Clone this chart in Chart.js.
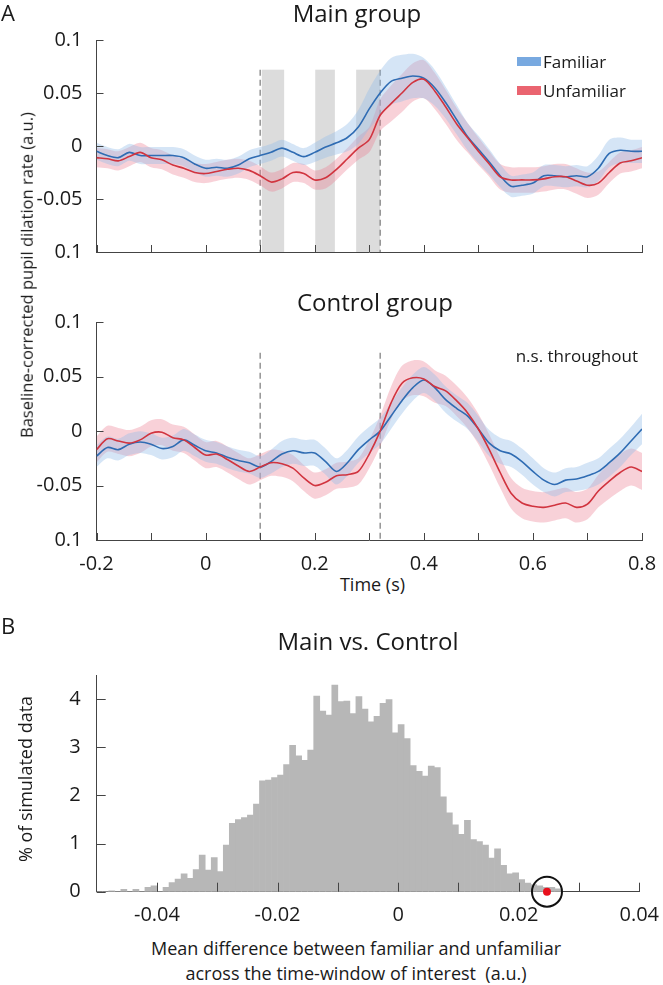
<!DOCTYPE html>
<html>
<head>
<meta charset="utf-8">
<script src="https://cdn.jsdelivr.net/npm/chart.js@4.4.1/dist/chart.umd.min.js"></script>
<style>
  body { margin: 0; background: #fff; }
  #fig { position: relative; width: 663px; height: 985px; font-family: 'Open Sans', sans-serif; color: #1a1a1a; }
  #fig canvas { position: absolute; left: 0; }
  .t { position: absolute; line-height: 1; white-space: nowrap; }
  .c { transform: translateX(-50%); }
  .rot { transform: translate(-50%, -50%) rotate(-90deg); }
  .sw { position: absolute; width: 24px; height: 9px; }
</style>
</head>
<body>
<div id="fig">
  <canvas id="mainChart" width="663" height="270" style="top:0px"></canvas>
  <canvas id="controlChart" width="663" height="280" style="top:290px"></canvas>
  <canvas id="histChart" width="663" height="330" style="top:600px"></canvas>

  <div class="t" style="left:1px; top:0.5px; font-size:22px">A</div>
  <div class="t c" style="left:357px; top:1.4px; font-size:24px">Main group</div>
  <div class="sw" style="left:517px; top:57px; background:#78a9e0"></div>
  <div class="t" style="left:543px; top:53.2px; font-size:17px">Familiar</div>
  <div class="sw" style="left:517px; top:86px; background:#ea6470"></div>
  <div class="t" style="left:543px; top:81.6px; font-size:17px">Unfamiliar</div>
  <div class="t c" style="left:375px; top:290.4px; font-size:24px">Control group</div>
  <div class="t" style="right:25px; top:346.6px; font-size:17px">n.s. throughout</div>
  <div class="t c" style="left:372.5px; top:575px; font-size:18px">Time (s)</div>
  <div class="t rot" style="left:27px; top:275px; font-size:16.5px">Baseline-corrected pupil dilation rate (a.u.)</div>

  <div class="t" style="left:1px; top:613.5px; font-size:22px">B</div>
  <div class="t c" style="left:368px; top:628.7px; font-size:24px">Main vs. Control</div>
  <div class="t rot" style="left:25px; top:779px; font-size:18px">% of simulated data</div>
  <div class="t c" style="left:356px; top:939px; font-size:18px">Mean difference between familiar and unfamiliar</div>
  <div class="t c" style="left:356px; top:964px; font-size:18px">across the time-window of interest&nbsp; (a.u.)</div>
</div>

<script>
Chart.defaults.font.family = "'Open Sans', sans-serif";
Chart.defaults.color = '#1a1a1a';

// time points (s)
const times = [-0.2, -0.18, -0.16, -0.14, -0.12, -0.1, -0.08, -0.06, -0.04, -0.02,
  0, 0.02, 0.04, 0.06, 0.08, 0.1, 0.12, 0.14, 0.16, 0.18,
  0.2, 0.22, 0.24, 0.26, 0.28, 0.3, 0.32, 0.34, 0.36, 0.38,
  0.4, 0.42, 0.44, 0.46, 0.48, 0.5, 0.52, 0.54, 0.56, 0.58,
  0.6, 0.62, 0.64, 0.66, 0.68, 0.7, 0.72, 0.74, 0.76, 0.78, 0.8];

// main group
const mainFamiliar = [-0.005, -0.009, -0.011, -0.006, -0.009, -0.009, -0.009, -0.009, -0.011, -0.017,
  -0.021, -0.020, -0.021, -0.018, -0.012, -0.009, -0.006, -0.002, -0.006, -0.010,
  -0.006, -0.001, 0.003, 0.008, 0.018, 0.035, 0.050, 0.061, 0.064, 0.066,
  0.064, 0.055, 0.041, 0.025, 0.009, -0.003, -0.015, -0.028, -0.038, -0.037,
  -0.035, -0.028, -0.028, -0.029, -0.028, -0.029, -0.021, -0.007, -0.004, -0.005, -0.005];
const mainFamiliarSE = [0.008, 0.008, 0.008, 0.008, 0.008, 0.008, 0.008, 0.008, 0.008, 0.008,
  0.008, 0.008, 0.008, 0.008, 0.008, 0.008, 0.008, 0.008, 0.008, 0.008,
  0.009, 0.01, 0.011, 0.013, 0.016, 0.019, 0.021, 0.022, 0.022, 0.021,
  0.019, 0.017, 0.015, 0.014, 0.013, 0.013, 0.012, 0.011, 0.01, 0.01,
  0.01, 0.01, 0.01, 0.01, 0.01, 0.01, 0.012, 0.013, 0.012, 0.011, 0.011];
const mainUnfamiliar = [-0.011, -0.012, -0.014, -0.010, -0.006, -0.011, -0.013, -0.018, -0.021, -0.025,
  -0.026, -0.024, -0.022, -0.021, -0.023, -0.028, -0.034, -0.031, -0.025, -0.026,
  -0.032, -0.030, -0.022, -0.012, -0.002, 0.006, 0.029, 0.040, 0.050, 0.060,
  0.063, 0.052, 0.037, 0.021, 0.008, -0.005, -0.017, -0.029, -0.032, -0.032,
  -0.032, -0.031, -0.029, -0.029, -0.033, -0.037, -0.035, -0.025, -0.016, -0.014, -0.011];
const mainUnfamiliarSE = [0.009, 0.009, 0.009, 0.009, 0.009, 0.009, 0.009, 0.009, 0.009, 0.009,
  0.009, 0.009, 0.009, 0.009, 0.009, 0.009, 0.009, 0.009, 0.009, 0.009,
  0.009, 0.01, 0.01, 0.01, 0.011, 0.012, 0.015, 0.017, 0.018, 0.018,
  0.018, 0.017, 0.016, 0.015, 0.014, 0.013, 0.012, 0.012, 0.012, 0.012,
  0.012, 0.012, 0.012, 0.012, 0.012, 0.012, 0.011, 0.01, 0.01, 0.01, 0.01];

// control group
const ctrlFamiliar = [-0.023, -0.015, -0.017, -0.012, -0.010, -0.012, -0.016, -0.014, -0.008, -0.013,
  -0.018, -0.020, -0.024, -0.027, -0.029, -0.033, -0.028, -0.021, -0.018, -0.020,
  -0.020, -0.028, -0.037, -0.029, -0.017, -0.008, 0.000, 0.014, 0.028, 0.040,
  0.047, 0.040, 0.029, 0.021, 0.014, 0.002, -0.011, -0.018, -0.021, -0.028,
  -0.037, -0.045, -0.049, -0.045, -0.044, -0.041, -0.037, -0.029, -0.020, -0.009, 0.002];
const ctrlFamiliarSE = [0.01, 0.01, 0.01, 0.01, 0.01, 0.01, 0.01, 0.01, 0.01, 0.01,
  0.01, 0.01, 0.01, 0.01, 0.01, 0.01, 0.011, 0.012, 0.012, 0.012,
  0.012, 0.012, 0.012, 0.012, 0.012, 0.012, 0.012, 0.012, 0.012, 0.012,
  0.012, 0.012, 0.012, 0.012, 0.012, 0.012, 0.012, 0.012, 0.012, 0.012,
  0.012, 0.011, 0.011, 0.011, 0.011, 0.012, 0.012, 0.013, 0.013, 0.013, 0.014];
const ctrlUnfamiliar = [-0.017, -0.007, -0.009, -0.011, -0.008, -0.002, -0.001, -0.006, -0.008, -0.015,
  -0.022, -0.021, -0.026, -0.032, -0.037, -0.033, -0.029, -0.030, -0.034, -0.043,
  -0.050, -0.047, -0.041, -0.040, -0.037, -0.021, 0.000, 0.026, 0.044, 0.049,
  0.048, 0.041, 0.037, 0.028, 0.017, 0.002, -0.017, -0.038, -0.057, -0.066,
  -0.069, -0.070, -0.068, -0.066, -0.070, -0.067, -0.055, -0.046, -0.038, -0.033, -0.037];
const ctrlUnfamiliarSE = [0.012, 0.012, 0.012, 0.012, 0.012, 0.012, 0.012, 0.012, 0.012, 0.012,
  0.012, 0.012, 0.012, 0.012, 0.012, 0.012, 0.012, 0.012, 0.012, 0.012,
  0.012, 0.012, 0.012, 0.012, 0.012, 0.013, 0.014, 0.015, 0.016, 0.016,
  0.016, 0.015, 0.014, 0.014, 0.014, 0.014, 0.014, 0.014, 0.014, 0.014,
  0.014, 0.014, 0.014, 0.014, 0.014, 0.014, 0.015, 0.016, 0.017, 0.017, 0.017];

// significant windows (s) in main group, and event markers (s)
const sigWindows = [[0.103, 0.144], [0.201, 0.237], [0.276, 0.32]];
const markerTimes = [0.1, 0.32];
const markerTop = 0.072;

// value-axis tick labels, as printed (bottom one lacks the minus sign)
const yTickText = { '0.1': '0.1', '0.05': '0.05', '0': '0', '-0.05': '-0.05', '-0.1': '0.1' };

// histogram: bin centres and % of simulated data
const histBins = [-0.0495, -0.0485, -0.0475, -0.0465, -0.0455, -0.0445, -0.0435, -0.0425, -0.0415, -0.0405,
  -0.0395, -0.0385, -0.0375, -0.0365, -0.0355, -0.0345, -0.0335, -0.0325, -0.0315, -0.0305,
  -0.0295, -0.0285, -0.0275, -0.0265, -0.0255, -0.0245, -0.0235, -0.0225, -0.0215, -0.0205,
  -0.0195, -0.0185, -0.0175, -0.0165, -0.0155, -0.0145, -0.0135, -0.0125, -0.0115, -0.0105,
  -0.0095, -0.0085, -0.0075, -0.0065, -0.0055, -0.0045, -0.0035, -0.0025, -0.0015, -0.0005,
  0.0005, 0.0015, 0.0025, 0.0035, 0.0045, 0.0055, 0.0065, 0.0075, 0.0085, 0.0095,
  0.0105, 0.0115, 0.0125, 0.0135, 0.0145, 0.0155, 0.0165, 0.0175, 0.0185, 0.0195,
  0.0205, 0.0215, 0.0225, 0.0235, 0.0245, 0.0255, 0.0265];
const histPercent = [0, 0, 0.02, 0, 0.05, 0, 0.05, 0, 0.09, 0.12,
  0, 0.09, 0.19, 0.26, 0.37, 0.28, 0.46, 0.76, 0.45, 0.71,
  0.42, 0.97, 1.42, 1.50, 1.54, 1.59, 1.82, 2.30, 2.32, 2.37,
  2.42, 2.64, 3.04, 2.82, 2.73, 2.94, 4.06, 3.75, 3.67, 4.29,
  3.95, 3.96, 3.70, 4.05, 3.79, 3.53, 3.64, 3.91, 3.99, 3.30,
  3.47, 3.18, 2.62, 2.50, 2.40, 2.61, 2.58, 1.97, 1.64, 1.39,
  1.19, 1.48, 1.08, 1.04, 0.97, 0.70, 0.89, 0.55, 0.37, 0.39,
  0.25, 0.18, 0.15, 0.12, 0.09, 0.09, 0.06];
const observedDiff = 0.0247;

const blueLine = '#2f6cb3', blueBand = 'rgba(150,190,232,0.4)';
const redLine = '#d1343f', redBand = 'rgba(236,128,146,0.36)';

// inward ticks along the left and bottom axes
const inTicks = {
  id: 'inTicks',
  afterDraw(chart, args, opts) {
    const { ctx, chartArea: a, scales } = chart;
    const len = opts.len || 7;
    ctx.save();
    ctx.strokeStyle = '#444';
    ctx.lineWidth = 1;
    ctx.beginPath();
    scales.x.ticks.forEach(t => {
      const px = Math.round(scales.x.getPixelForValue(t.value)) + 0.5;
      ctx.moveTo(px, a.bottom); ctx.lineTo(px, a.bottom - len);
    });
    scales.y.ticks.forEach(t => {
      const py = Math.round(scales.y.getPixelForValue(t.value)) + 0.5;
      ctx.moveTo(a.left, py); ctx.lineTo(a.left + len, py);
    });
    ctx.stroke();
    ctx.restore();
  }
};

// grey significance windows and dashed event markers
const marks = {
  id: 'marks',
  beforeDatasetsDraw(chart, args, opts) {
    const { ctx, scales: { x, y } } = chart;
    const top = y.getPixelForValue(opts.top);
    const bottom = y.getPixelForValue(y.min);
    ctx.save();
    ctx.fillStyle = '#dcdcdc';
    (opts.windows || []).forEach(([a, b]) => {
      const xa = x.getPixelForValue(a), xb = x.getPixelForValue(b);
      ctx.fillRect(xa, top, xb - xa, bottom - top);
    });
    ctx.strokeStyle = '#7a7a7a';
    ctx.lineWidth = 1.2;
    ctx.setLineDash([6, 4]);
    (opts.markers || []).forEach(m => {
      const px = x.getPixelForValue(m);
      ctx.beginPath(); ctx.moveTo(px, top); ctx.lineTo(px, bottom); ctx.stroke();
    });
    ctx.restore();
  }
};

function pts(vals, se, sign) {
  const k = sign || 0;
  return times.map((t, i) => ({ x: t, y: vals[i] + (se ? k * se[i] : 0) }));
}

function timeChart(id, fam, famSE, unf, unfSE, opts) {
  const band = (data, color, fill) => ({
    data, backgroundColor: color, borderWidth: 0, pointRadius: 0, fill, tension: 0.3, order: 5
  });
  const line = (data, color) => ({
    data, borderColor: color, borderWidth: 1.6, pointRadius: 0, fill: false, tension: 0.3, order: 0
  });
  return new Chart(document.getElementById(id), {
    type: 'line',
    data: {
      datasets: [
        band(pts(fam, famSE, 1), blueBand, '+1'),
        band(pts(fam, famSE, -1), blueBand, false),
        band(pts(unf, unfSE, 1), redBand, '+1'),
        band(pts(unf, unfSE, -1), redBand, false),
        line(pts(unf), redLine),
        line(pts(fam), blueLine)
      ]
    },
    options: {
      responsive: false,
      animation: false,
      layout: { padding: { top: opts.padTop, right: 21, left: 0, bottom: 0 } },
      plugins: {
        legend: { display: false },
        tooltip: { enabled: false },
        marks: { windows: opts.windows, markers: markerTimes, top: markerTop },
        inTicks: { len: 7 }
      },
      scales: {
        x: {
          type: 'linear', min: -0.2, max: 0.8,
          grid: { display: false },
          border: { display: true, color: '#444', width: 1 },
          afterBuildTicks: s => { s.ticks = [-0.2, -0.1, 0, 0.1, 0.2, 0.3, 0.4, 0.5, 0.6, 0.7, 0.8].map(v => ({ value: v })); },
          ticks: {
            display: opts.xLabels, autoSkip: false, maxRotation: 0, padding: 4,
            font: { size: 20 }, color: '#1a1a1a',
            callback: v => {
              const k = Math.round(v * 10);
              return k % 2 === 0 ? String(k / 10) : '';
            }
          },
          afterFit: s => { s.height = opts.xHeight; }
        },
        y: {
          min: -0.1, max: 0.1,
          grid: { display: false },
          border: { display: true, color: '#444', width: 1 },
          afterBuildTicks: s => { s.ticks = [-0.1, -0.05, 0, 0.05, 0.1].map(v => ({ value: v })); },
          ticks: {
            padding: 6, font: { size: 20 }, color: '#1a1a1a',
            callback: v => yTickText[String(Math.round(v * 100) / 100)]
          },
          afterFit: s => { s.width = 96.5; }
        }
      }
    },
    plugins: [marks, inTicks]
  });
}

timeChart('mainChart', mainFamiliar, mainFamiliarSE, mainUnfamiliar, mainUnfamiliarSE,
  { padTop: 40, xHeight: 12, xLabels: false, windows: sigWindows });
timeChart('controlChart', ctrlFamiliar, ctrlFamiliarSE, ctrlUnfamiliar, ctrlUnfamiliarSE,
  { padTop: 32.3, xHeight: 30, xLabels: true, windows: [] });

new Chart(document.getElementById('histChart'), {
  type: 'bar',
  data: {
    datasets: [
      {
        type: 'scatter',
        data: [{ x: observedDiff, y: 0 }],
        pointRadius: 4, pointBackgroundColor: '#e8101c', pointBorderWidth: 0, clip: false, order: 0
      },
      {
        type: 'scatter',
        data: [{ x: observedDiff, y: 0 }],
        pointRadius: 15, pointBackgroundColor: 'rgba(0,0,0,0)', pointBorderColor: '#111',
        pointBorderWidth: 2, clip: false, order: 1
      },
      {
        data: histBins.map((b, i) => ({ x: b, y: histPercent[i] })),
        backgroundColor: '#b7b7b7', borderWidth: 0,
        barPercentage: 1, categoryPercentage: 1, order: 2
      }
    ]
  },
  options: {
    responsive: false,
    animation: false,
    layout: { padding: { top: 75, right: 18.7, left: 0, bottom: 0 } },
    plugins: { legend: { display: false }, tooltip: { enabled: false }, inTicks: { len: 9 } },
    scales: {
      x: {
        type: 'linear', min: -0.05, max: 0.04, offset: false,
        grid: { display: false, offset: false },
        border: { display: true, color: '#444', width: 1 },
        afterBuildTicks: s => { s.ticks = [-0.04, -0.03, -0.02, -0.01, 0, 0.01, 0.02, 0.03, 0.04].map(v => ({ value: v })); },
        ticks: {
          autoSkip: false, maxRotation: 0, padding: 4, font: { size: 20 }, color: '#1a1a1a',
          callback: v => {
            const k = Math.round(v * 100);
            return k % 2 === 0 ? String(k / 100) : '';
          }
        },
        afterFit: s => { s.height = 38.3; }
      },
      y: {
        min: 0, max: 4.5,
        grid: { display: false },
        border: { display: true, color: '#444', width: 1 },
        afterBuildTicks: s => { s.ticks = [0, 0.5, 1, 1.5, 2, 2.5, 3, 3.5, 4, 4.5].map(v => ({ value: v })); },
        ticks: {
          padding: 8, font: { size: 20 }, color: '#1a1a1a',
          callback: v => (Number.isInteger(v) ? String(v) : '')
        },
        afterFit: s => { s.width = 96.7; }
      }
    }
  },
  plugins: [inTicks]
});
</script>
</body>
</html>
